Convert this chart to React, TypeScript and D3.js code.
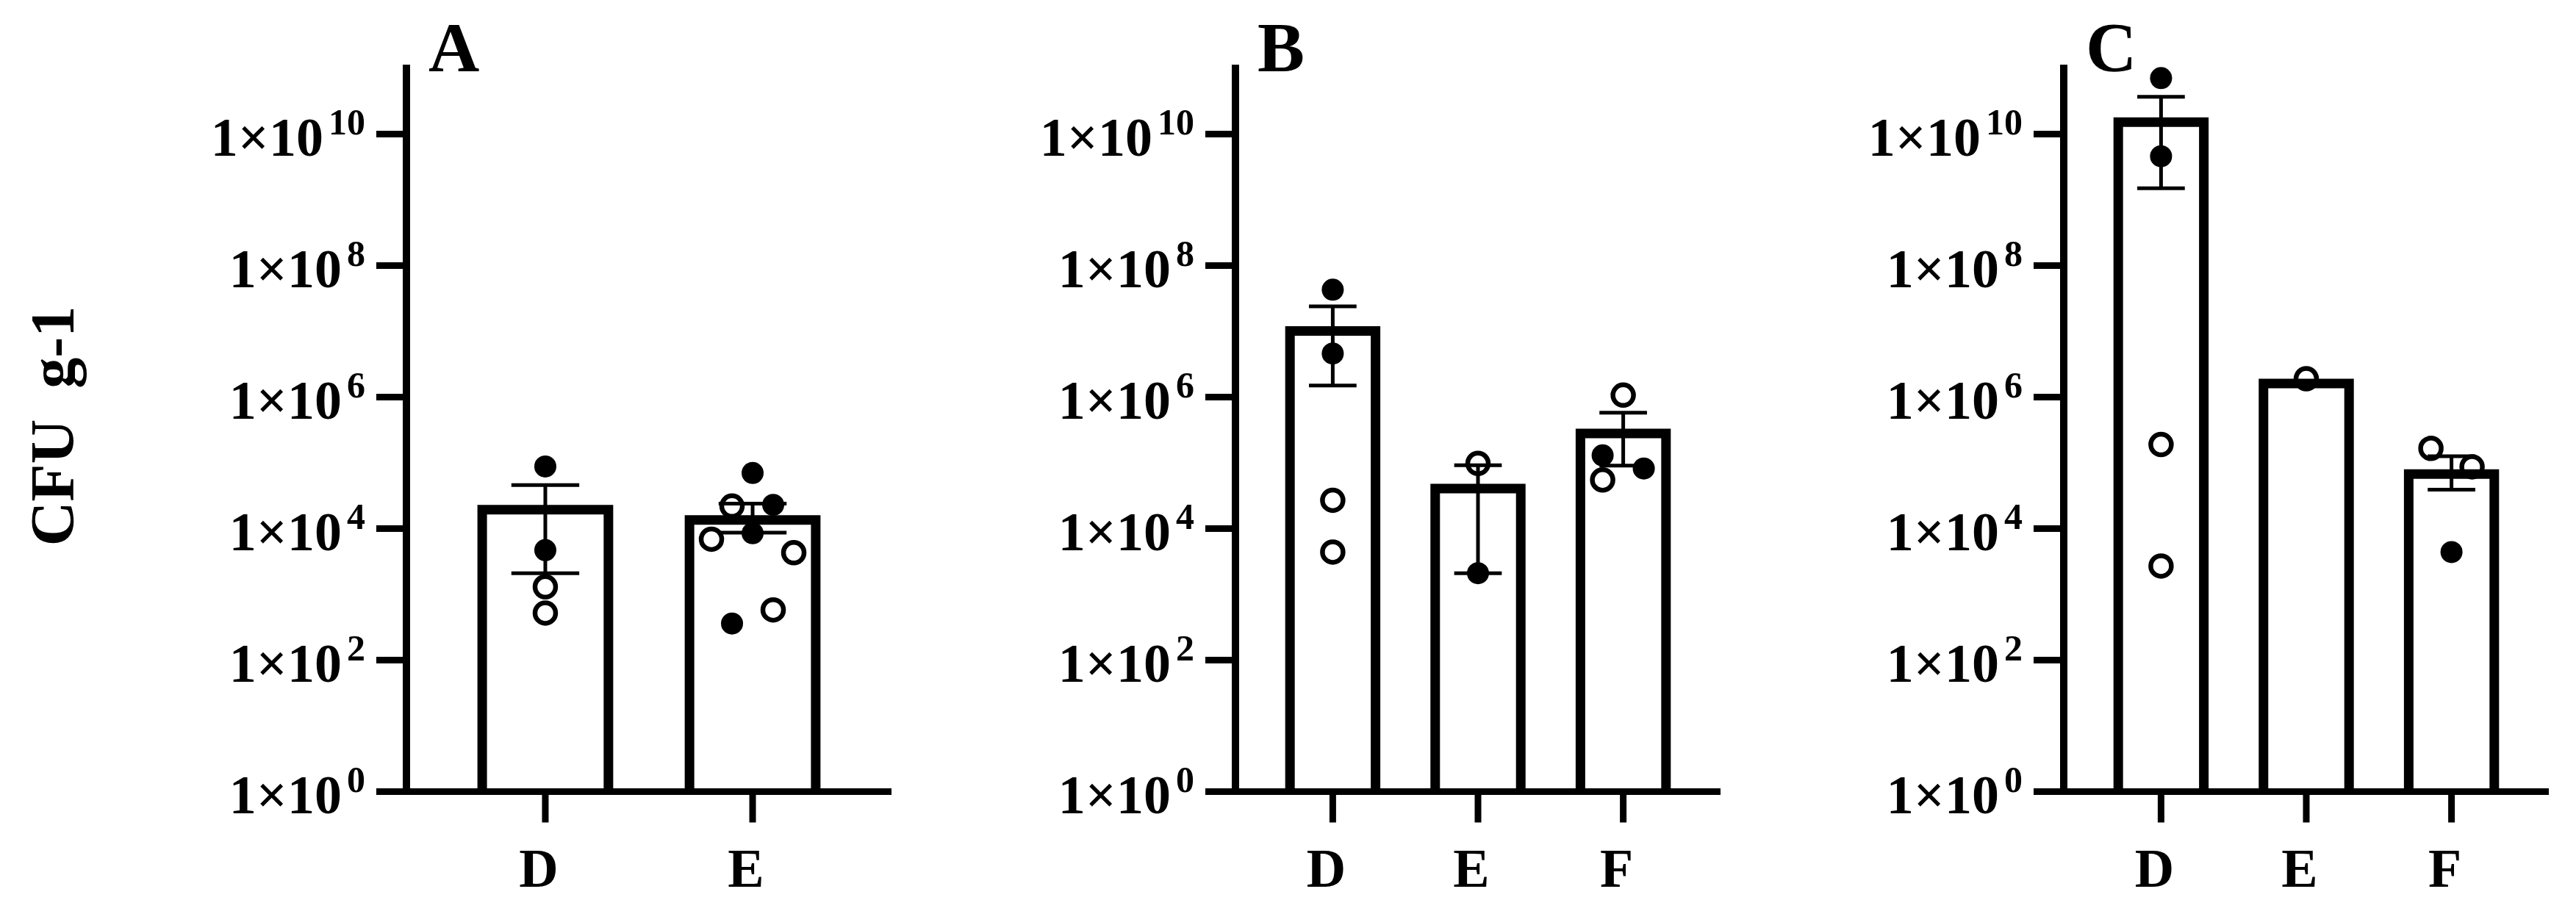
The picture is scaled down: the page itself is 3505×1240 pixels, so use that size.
import React from "react";
import * as d3 from "d3";

// ---------- data ----------
const panelLabels = ["A", "B", "C"];
const categoriesA = ["D", "E"];
const categoriesB = ["D", "E", "F"];
const categoriesC = ["D", "E", "F"];
const yTickExponents = [0, 2, 4, 6, 8, 10];
const yAxisTitle = "CFU  g-1";

// bar means (CFU g-1)
const meansA = [2.3e4, 1.6e4];
const meansB = [1.2e7, 4.8e4, 3.3e5];
const meansC = [1.8e10, 1.9e6, 8.0e4];

// error bars (mean - SEM, mean + SEM); null = no error bar
const errLowA = [2.1e3, 8.7e3];
const errHighA = [4.6e4, 2.4e4];
const errLowB = [1.5e6, 2.1e3, 9.1e4];
const errHighB = [2.4e7, 9.2e4, 5.8e5];
const errLowC: (number | null)[] = [1.5e9, null, 3.9e4];
const errHighC: (number | null)[] = [3.7e10, null, 1.26e5];

// individual samples: value, filled marker?, jitter slot
type Pt = { v: number; filled: boolean; slot: number };
const pointsA: Pt[][] = [
  [
    { v: 8.8e4, filled: true, slot: 0 },
    { v: 4.7e3, filled: true, slot: 0 },
    { v: 1.3e3, filled: false, slot: 0 },
    { v: 5.2e2, filled: false, slot: 0 },
  ],
  [
    { v: 7.0e4, filled: true, slot: 0 },
    { v: 2.2e4, filled: false, slot: -1 },
    { v: 2.3e4, filled: true, slot: 1 },
    { v: 8.5e3, filled: true, slot: 0 },
    { v: 6.9e3, filled: false, slot: -2 },
    { v: 4.3e3, filled: false, slot: 2 },
    { v: 5.8e2, filled: false, slot: 1 },
    { v: 3.6e2, filled: true, slot: -1 },
  ],
];
const pointsB: Pt[][] = [
  [
    { v: 4.3e7, filled: true, slot: 0 },
    { v: 4.6e6, filled: true, slot: 0 },
    { v: 2.7e4, filled: false, slot: 0 },
    { v: 4.4e3, filled: false, slot: 0 },
  ],
  [
    { v: 9.8e4, filled: false, slot: 0 },
    { v: 2.1e3, filled: true, slot: 0 },
  ],
  [
    { v: 1.07e6, filled: false, slot: 0 },
    { v: 1.3e5, filled: true, slot: -1 },
    { v: 8.2e4, filled: true, slot: 1 },
    { v: 5.5e4, filled: false, slot: -1 },
  ],
];
const pointsC: Pt[][] = [
  [
    { v: 7.1e10, filled: true, slot: 0 },
    { v: 4.6e9, filled: true, slot: 0 },
    { v: 1.9e5, filled: false, slot: 0 },
    { v: 2.7e3, filled: false, slot: 0 },
  ],
  [{ v: 1.9e6, filled: false, slot: 0 }],
  [
    { v: 1.66e5, filled: false, slot: -1 },
    { v: 8.7e4, filled: false, slot: 1 },
    { v: 4.4e3, filled: true, slot: 0 },
  ],
];

// ---------- layout ----------
const W = 3505;
const H = 1240;
const FONT = "'Liberation Serif', 'Times New Roman', serif";
const Y0 = 1077.5; // y of 10^0
const DECADE = 89.5;
const panelAxisX = [553, 1681, 2808];
const panelWidth = 660;

const yScale = d3
  .scaleLog()
  .domain([1, 1e11])
  .range([Y0, Y0 - 11 * DECADE]);

type PanelDef = {
  label: string;
  cats: string[];
  means: number[];
  lo: (number | null)[];
  hi: (number | null)[];
  pts: Pt[][];
  axisX: number;
};

const panels: PanelDef[] = [
  { label: panelLabels[0], cats: categoriesA, means: meansA, lo: errLowA, hi: errHighA, pts: pointsA, axisX: panelAxisX[0] },
  { label: panelLabels[1], cats: categoriesB, means: meansB, lo: errLowB, hi: errHighB, pts: pointsB, axisX: panelAxisX[1] },
  { label: panelLabels[2], cats: categoriesC, means: meansC, lo: errLowC, hi: errHighC, pts: pointsC, axisX: panelAxisX[2] },
];

function Panel({ p }: { p: PanelDef }) {
  const x = d3
    .scalePoint<string>()
    .domain(p.cats)
    .range([p.axisX, p.axisX + panelWidth])
    .padding(0.67);
  const step = x.step();
  const bw = step * 0.655; // outer bar width
  const sw = 13; // bar border
  const capW = bw * 0.5;
  const slotW = 28;
  const axisTop = yScale(1e11) - 5;

  return (
    <g>
      {/* bars */}
      {p.cats.map((c, i) => {
        const cx = x(c)!;
        const left = cx - bw / 2 + sw / 2;
        const right = cx + bw / 2 - sw / 2;
        const top = yScale(p.means[i]) + sw / 2;
        const path = d3.line()([
          [left, Y0],
          [left, top],
          [right, top],
          [right, Y0],
        ]);
        return (
          <path
            key={"bar" + c}
            d={path!}
            fill="#fff"
            stroke="#000"
            strokeWidth={sw}
            strokeLinejoin="miter"
          />
        );
      })}
      {/* error bars */}
      {p.cats.map((c, i) => {
        const lo = p.lo[i];
        const hi = p.hi[i];
        if (lo == null || hi == null) return null;
        const cx = x(c)!;
        return (
          <g key={"err" + c} stroke="#000" strokeWidth={5}>
            <line x1={cx} x2={cx} y1={yScale(lo)} y2={yScale(hi)} />
            <line x1={cx - capW / 2} x2={cx + capW / 2} y1={yScale(lo)} y2={yScale(lo)} />
            <line x1={cx - capW / 2} x2={cx + capW / 2} y1={yScale(hi)} y2={yScale(hi)} />
          </g>
        );
      })}
      {/* points */}
      {p.cats.map((c, i) =>
        p.pts[i].map((pt, j) => {
          const cx = x(c)! + pt.slot * slotW;
          const cy = yScale(pt.v);
          return pt.filled ? (
            <circle key={"pt" + c + j} cx={cx} cy={cy} r={15} fill="#000" />
          ) : (
            <circle
              key={"pt" + c + j}
              cx={cx}
              cy={cy}
              r={14}
              fill="none"
              stroke="#000"
              strokeWidth={6.5}
            />
          );
        })
      )}
      {/* y axis */}
      <line
        x1={p.axisX}
        x2={p.axisX}
        y1={axisTop}
        y2={Y0 + 4.5}
        stroke="#000"
        strokeWidth={10}
      />
      {yTickExponents.map((k) => {
        const ty = yScale(Math.pow(10, k));
        return (
          <g key={"yt" + k}>
            <line x1={p.axisX - 41} x2={p.axisX} y1={ty} y2={ty} stroke="#000" strokeWidth={9} />
            <text
              x={p.axisX - 56}
              y={ty + 29}
              textAnchor="end"
              fontFamily={FONT}
              fontWeight="bold"
              fontSize={74}
              fill="#000"
            >
              1×10
              <tspan dx={7} dy={-29} fontSize={50}>
                {k}
              </tspan>
            </text>
          </g>
        );
      })}
      {/* x axis */}
      <line
        x1={p.axisX - 41}
        x2={p.axisX + panelWidth}
        y1={Y0}
        y2={Y0}
        stroke="#000"
        strokeWidth={9}
      />
      {p.cats.map((c) => (
        <g key={"xt" + c}>
          <line x1={x(c)!} x2={x(c)!} y1={Y0} y2={Y0 + 42} stroke="#000" strokeWidth={9} />
          <text
            x={x(c)! - 9}
            y={1207}
            textAnchor="middle"
            fontFamily={FONT}
            fontWeight="bold"
            fontSize={74}
            fill="#000"
          >
            {c}
          </text>
        </g>
      ))}
      {/* panel label */}
      <text
        x={p.axisX + 30}
        y={97}
        fontFamily={FONT}
        fontWeight="bold"
        fontSize={96}
        fill="#000"
      >
        {p.label}
      </text>
    </g>
  );
}

export default function App() {
  return (
    <div>
      <style>{`body{margin:0;background:#fff}`}</style>
      <svg width={W} height={H} viewBox={`0 0 ${W} ${H}`} style={{ display: "block" }}>
        <rect x={0} y={0} width={W} height={H} fill="#fff" />
        <text
          transform={`translate(100,580) rotate(-90)`}
          textAnchor="middle"
          fontFamily={FONT}
          fontWeight="bold"
          fontSize={84}
          fill="#000"
          style={{ whiteSpace: "pre" }}
        >
          {yAxisTitle}
        </text>
        {panels.map((p) => (
          <Panel key={p.label} p={p} />
        ))}
      </svg>
    </div>
  );
}
